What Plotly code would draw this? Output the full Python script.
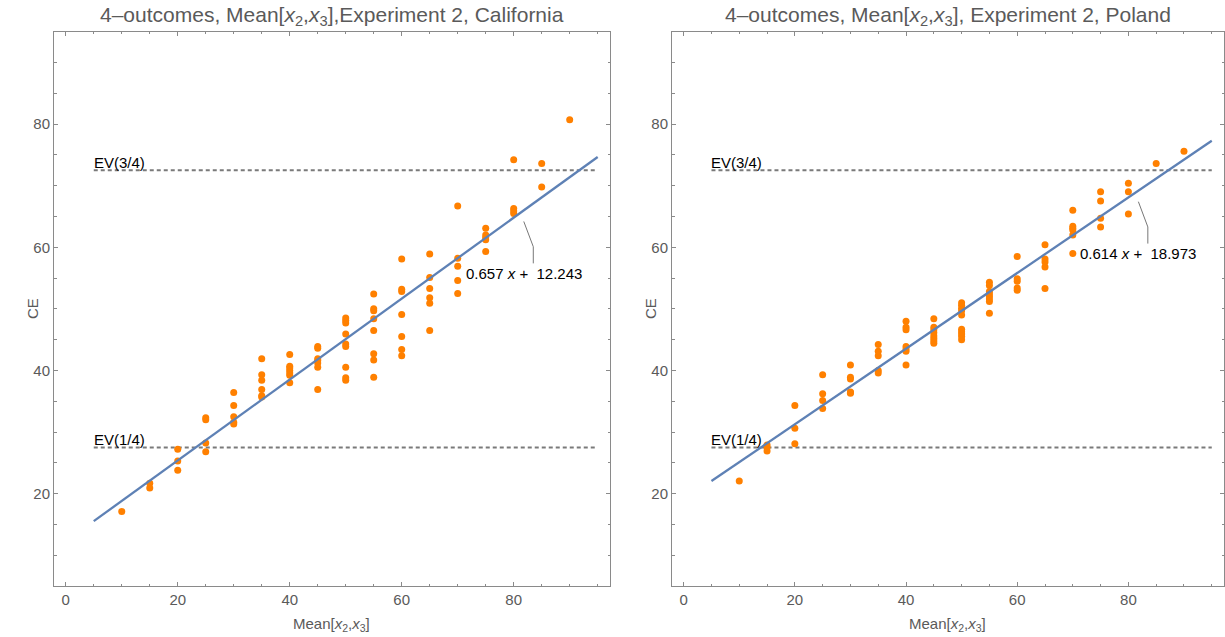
import plotly.graph_objects as go

# ---------------- data ----------------
# California (left panel)
cal_x = ([10] + [15]*2 + [20]*3 + [25]*4 + [30]*5 + [35]*6 + [40]*7 + [45]*7 + [50]*9
         + [55]*8 + [60]*7 + [65]*6 + [70]*5 + [75]*5 + [80]*4 + [85]*2 + [90])
cal_y = [17.1,
         21.7, 20.9,
         27.2, 25.3, 23.8,
         32.3, 32.0, 28.2, 26.8,
         36.4, 34.3, 32.5, 31.6, 31.3,
         41.9, 39.3, 38.4, 36.9, 35.9, 35.7,
         42.6, 40.7, 40.4, 40.0, 39.6, 39.2, 38.0,
         43.9, 43.6, 41.9, 41.6, 41.2, 40.5, 36.9,
         48.5, 48.1, 47.7, 45.9, 44.3, 43.9, 40.5, 38.8, 38.4,
         52.4, 50.0, 49.7, 48.4, 46.5, 42.7, 41.7, 38.9,
         58.1, 53.2, 52.8, 49.1, 45.5, 43.4, 42.4,
         58.9, 55.1, 53.3, 51.8, 50.9, 46.5,
         66.7, 58.2, 56.9, 54.6, 52.5,
         63.1, 62.0, 61.6, 61.2, 59.3,
         74.2, 66.3, 65.9, 65.5,
         73.6, 69.8,
         80.7]
cal_fit = [0.657, 12.243]   # slope, intercept

# Poland (right panel)
pol_x = ([10] + [15]*3 + [20]*3 + [25]*4 + [30]*6 + [35]*5 + [40]*7 + [45]*8 + [50]*10
         + [55]*8 + [60]*5 + [65]*5 + [70]*6 + [75]*4 + [80]*3 + [85] + [90])
pol_y = [22.05,
         27.9, 27.5, 26.9,
         34.3, 30.6, 28.1,
         39.3, 36.2, 35.1, 33.8,
         40.9, 38.9, 38.6, 36.5, 36.4, 36.3,
         44.2, 43.1, 42.4, 40.0, 39.6,
         48.0, 47.0, 46.6, 43.9, 43.5, 43.1, 40.9,
         48.4, 47.0, 46.6, 46.1, 45.6, 45.2, 44.8, 44.4,
         51.0, 50.6, 50.1, 49.7, 49.0, 46.7, 46.3, 45.9, 45.5, 45.0,
         54.3, 53.8, 52.8, 52.4, 52.0, 51.6, 51.2, 49.3,
         58.5, 54.9, 54.5, 53.4, 53.0,
         60.4, 58.1, 57.6, 56.8, 53.3,
         66.0, 63.4, 63.1, 62.8, 62.0, 59.0,
         69.0, 67.5, 64.7, 63.3,
         70.4, 69.0, 65.4,
         73.6,
         75.6]
pol_fit = [0.614, 18.973]

ev_levels = [27.5, 72.5]
ev_labels = ["EV(1/4)", "EV(3/4)"]
fit_range = [5, 95]

panels = [
    dict(x=cal_x, y=cal_y, fit=cal_fit,
         title="4\u2013outcomes, Mean[<i>x</i><sub>2</sub>,<i>x</i><sub>3</sub>],Experiment 2, California"),
    dict(x=pol_x, y=pol_y, fit=pol_fit,
         title="4\u2013outcomes, Mean[<i>x</i><sub>2</sub>,<i>x</i><sub>3</sub>], Experiment 2, Poland"),
]

# ---------------- figure ----------------
W, H = 1225, 637
FONT = "Liberation Sans"
ORANGE = "#FF8000"
BLUE = "#5E81B5"
FRAME = "#8a8a8a"
TXT = "#5a5a5a"

x_domains = [[54 / W, 610 / W], [672 / W, 1224 / W]]
y_domain = [1 - 586 / H, 1 - 31.7 / H]

fig = go.Figure()
annotations = []
shapes = []

for i, p in enumerate(panels):
    xa = "x" if i == 0 else "x2"
    ya = "y" if i == 0 else "y2"
    sfx = "" if i == 0 else "2"
    m, b = p["fit"]

    # EV dashed lines
    for lev in ev_levels:
        fig.add_trace(go.Scatter(x=fit_range, y=[lev, lev], mode="lines",
                                 line=dict(color="#7a7a7a", width=2, dash="4px,3px"),
                                 xaxis=xa, yaxis=ya, showlegend=False, hoverinfo="skip"))
    # scatter points
    fig.add_trace(go.Scatter(x=p["x"], y=p["y"], mode="markers",
                             marker=dict(color=ORANGE, size=7),
                             xaxis=xa, yaxis=ya, showlegend=False))
    # fitted line
    fig.add_trace(go.Scatter(x=fit_range, y=[m * v + b for v in fit_range], mode="lines",
                             line=dict(color=BLUE, width=2.3),
                             xaxis=xa, yaxis=ya, showlegend=False))

    # EV labels
    for lev, lab in zip(ev_levels, ev_labels):
        annotations.append(dict(x=fit_range[0], y=lev, xref=xa, yref=ya, text=lab,
                                showarrow=False, xanchor="left", yanchor="bottom",
                                xshift=-2, yshift=-3,
                                font=dict(family=FONT, size=15, color="black")))

    # fit equation label with callout
    xc = 81.8
    yl = m * xc + b
    shapes.append(dict(type="path", xref=xa, yref=ya,
                       path=f"M {xc},{yl - 1.8} L {xc + 1.7},{yl - 5.9} L {xc + 1.7},{yl - 8.6}",
                       line=dict(color="#777777", width=1)))
    annotations.append(dict(x=xc, y=yl - 10.2, xref=xa, yref=ya,
                            text=f"{m:.3f} <i>x</i> +  {b:.3f}", showarrow=False,
                            xanchor="center", yanchor="middle",
                            font=dict(family=FONT, size=15, color="black")))

    # panel title
    xd = x_domains[i]
    annotations.append(dict(x=(xd[0] + xd[1]) / 2, y=1 - 16 / H, xref="paper", yref="paper",
                            text=p["title"], showarrow=False, xanchor="center", yanchor="middle",
                            font=dict(family=FONT, size=21, color=TXT)))
    # axis titles
    annotations.append(dict(x=(xd[0] + xd[1]) / 2, y=1 - 624 / H, xref="paper", yref="paper",
                            text="Mean[<i>x</i><sub>2</sub>,<i>x</i><sub>3</sub>]", showarrow=False,
                            xanchor="center", yanchor="middle",
                            font=dict(family=FONT, size=15, color=TXT)))
    annotations.append(dict(x=xd[0] - 22 / W, y=1 - 309 / H, xref="paper", yref="paper",
                            text="CE", showarrow=False, textangle=-90,
                            xanchor="center", yanchor="middle",
                            font=dict(family=FONT, size=15, color=TXT)))

    axis_common = dict(showgrid=False, zeroline=False, showline=True, linecolor=FRAME,
                       linewidth=1, mirror="ticks", ticks="inside", ticklen=4,
                       tickcolor=FRAME, tickwidth=1,
                       tickfont=dict(family=FONT, size=15, color=TXT),
                       minor=dict(ticks="inside", ticklen=2.5, dtick=5, tickcolor=FRAME,
                                  showgrid=False))
    fig.update_layout(**{
        f"xaxis{sfx}": dict(axis_common, domain=xd, range=[-2.1, 97.2], tick0=0, dtick=20,
                            anchor=ya),
        f"yaxis{sfx}": dict(axis_common, domain=y_domain, range=[5, 95], tick0=0, dtick=20,
                            anchor=xa),
    })

fig.update_layout(width=W, height=H, margin=dict(l=0, r=0, t=0, b=0),
                  paper_bgcolor="white", plot_bgcolor="white",
                  annotations=annotations, shapes=shapes,
                  font=dict(family=FONT))

fig.write_html("out.html")
